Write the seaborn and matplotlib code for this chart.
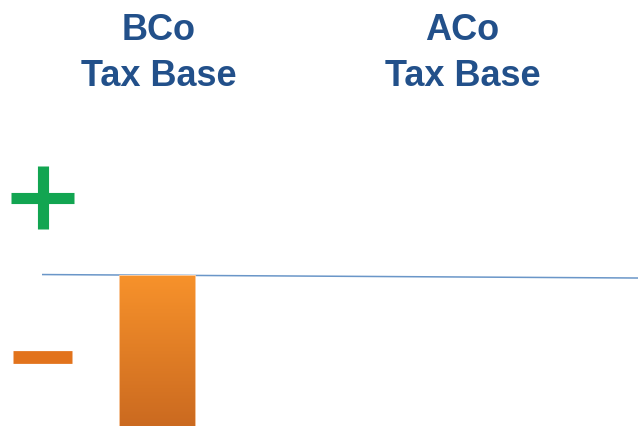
import numpy as np
import pandas as pd
import matplotlib
matplotlib.use("Agg")
import matplotlib.pyplot as plt
import matplotlib.transforms as mtransforms
from matplotlib.colors import LinearSegmentedColormap
import seaborn as sns

# ---- data ----
categories = ["BCo\nTax Base", "ACo\nTax Base"]
values = [-1.0, 0.0]

sns.set_theme(style="white")
plt.rcParams['font.family'] = ['Liberation Sans', 'DejaVu Sans']

df = pd.DataFrame({"label": categories, "value": values})

W, H = 638, 426
fig = plt.figure(figsize=(W / 100, H / 100), dpi=100)
ax = fig.add_axes([0, 0, 1, 1])

sns.barplot(data=df, x="label", y="value", width=0.253, color="#F39030",
            ax=ax, saturation=1)

# scales: category 0 centred at px 157, spacing 304 px; zero line at px 275
px_per_cat = 304.0
c0 = 157.0
px_per_unit = (H - 275.0)
xlim = (-c0 / px_per_cat, (W - c0) / px_per_cat)
ylim = (-1.0, 275.0 / px_per_unit)
ax.set_axis_off()

# gradient fill of bars (bright at top, darker at bottom)
cmap = LinearSegmentedColormap.from_list("og", ["#CB6A20", "#F7922B"])
for p in list(ax.patches):
    bb = p.get_bbox()
    if abs(bb.height) < 1e-9:
        continue
    ylo, yhi = min(bb.y0, bb.y1), max(bb.y0, bb.y1)
    grad = np.linspace(0, 1, 256).reshape(-1, 1)
    im = ax.imshow(grad, cmap=cmap, aspect="auto", origin="lower",
                   extent=[bb.x0, bb.x1, ylo, yhi], zorder=2,
                   interpolation="bicubic")
    im.set_clip_path(p)
    p.set_facecolor("none")
    p.set_edgecolor("#FBD3B0")
    p.set_linewidth(0.6)
    p.set_zorder(3)
ax.set_xlim(*xlim)
ax.set_ylim(*ylim)

# baseline (slightly sloped as in the reference)
x_start = (42 - c0) / px_per_cat
x_end = (W - c0) / px_per_cat
ax.plot([x_start, x_end], [0.003, -0.02], color="#6A96C8", lw=1.1, zorder=1,
        solid_capstyle="butt")

# category headers
trans = mtransforms.blended_transform_factory(ax.transData, ax.transAxes)
for i, lab in enumerate(categories):
    ax.text(i + 0.005, 1 - 13 / H, lab, transform=trans, ha="center", va="top",
            fontsize=26, fontweight="bold", color="#22508A",
            linespacing=1.4, multialignment="center")

# + / - signs (figure pixel coordinates)
def seg(x0, y0, x1, y1, lw, color):
    fig.add_artist(plt.Line2D([x0, x1], [H - y0, H - y1], lw=lw, color=color,
                              solid_capstyle="butt",
                              transform=mtransforms.IdentityTransform()))
green = "#12A551"
seg(11, 197.5, 74, 197.5, 8.0, green)
seg(42.5, 166, 42.5, 229, 8.0, green)
seg(13, 357, 72, 357, 9.2, "#E2731C")

fig.savefig("out.png", dpi=100, facecolor="white")
